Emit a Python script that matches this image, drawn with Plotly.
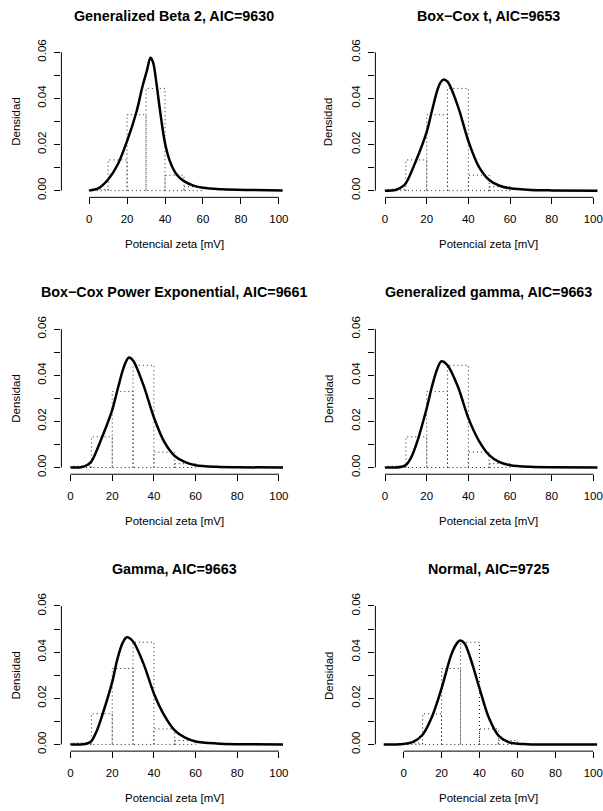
import plotly.graph_objects as go

# ---------------- data ----------------
titles = [
    "Generalized Beta 2, AIC=9630",
    "Box\u2212Cox t, AIC=9653",
    "Box\u2212Cox Power Exponential, AIC=9661",
    "Generalized gamma, AIC=9663",
    "Gamma, AIC=9663",
    "Normal, AIC=9725",
]

bin_edges = [0, 10, 20, 30, 40, 50, 60]
hist_density = [0.0006, 0.0133, 0.0329, 0.0443, 0.0067, 0.0017]

gb2_x = [0, 5, 10, 15, 20, 25, 28, 30.5, 32.3, 33.7, 35.4, 37.2, 40, 42.5, 46, 50, 55, 60, 70, 83, 102]
gb2_y = [0, 0.0011, 0.0048, 0.0112, 0.0215, 0.0343, 0.0448, 0.0522, 0.0576, 0.0556, 0.047, 0.0357,
         0.0205, 0.0129, 0.0071, 0.0041, 0.0022, 0.0012, 0.0006, 0.0003, 0.0001]

bct_x = [0, 5, 8, 10, 15, 20, 22.5, 25, 26.5, 28, 30, 35, 40, 45, 50, 55, 60, 70, 80, 102]
bct_y = [0, 0.0003, 0.0016, 0.0032, 0.0133, 0.0255, 0.0345, 0.0432, 0.0467, 0.0481, 0.0472, 0.0365,
         0.0215, 0.0104, 0.0046, 0.0021, 0.001, 0.0003, 0.0001, 0]

bcpe_x = [0, 5, 8, 10, 15, 20, 22.5, 25, 26.5, 28, 30, 35, 40, 45, 50, 55, 60, 70, 80, 102]
bcpe_y = [0, 0.0001, 0.0011, 0.0026, 0.0129, 0.025, 0.0336, 0.042, 0.0457, 0.0477, 0.0464, 0.0357,
          0.0217, 0.0111, 0.005, 0.0023, 0.001, 0.0003, 0.0001, 0]

gg_x = [0, 5, 8, 10, 12.5, 15, 20, 22.5, 25, 27, 30, 35, 40, 45, 50, 55, 60, 70, 80, 102]
gg_y = [0, 0, 0.0003, 0.0011, 0.0043, 0.01, 0.0257, 0.035, 0.0426, 0.046, 0.0443, 0.035, 0.0214,
        0.0117, 0.0054, 0.0023, 0.001, 0.0003, 0.0001, 0]

gamma_x = [0, 5, 8, 10, 12.5, 15, 20, 22.5, 25, 27, 30, 35, 40, 45, 50, 55, 60, 70, 80, 102]
gamma_y = [0, 0, 0.0004, 0.0014, 0.0057, 0.0121, 0.0271, 0.0371, 0.044, 0.0464, 0.0446, 0.035,
           0.0221, 0.0126, 0.0061, 0.0029, 0.0013, 0.0004, 0.0001, 0]

norm_x = [-10.5, -5, 0, 5, 10, 15, 20, 25, 27.5, 29.7, 32, 35, 40, 45, 50, 55, 60, 65, 70, 102]
norm_y = [0, 0, 0.0002, 0.0011, 0.0042, 0.0121, 0.0243, 0.0386, 0.0431, 0.045, 0.0439, 0.0379,
          0.0243, 0.0114, 0.0038, 0.0011, 0.0003, 0.0001, 0, 0]

curves = [(gb2_x, gb2_y), (bct_x, bct_y), (bcpe_x, bcpe_y),
          (gg_x, gg_y), (gamma_x, gamma_y), (norm_x, norm_y)]

x_ticks = [0, 20, 40, 60, 80, 100]
y_ticks = [0.0, 0.02, 0.04, 0.06]
y_tick_text = ["0.00", "0.02", "0.04", "0.06"]
x_label = "Potencial zeta [mV]"
y_label = "Densidad"

# ---------------- layout geometry (pixels) ----------------
W, H = 603, 811
col_left = [(61.5, 287.5), (376.0, 602.0)]
# pixel of x=0 and x=100 per panel
x_px = [(89.3, 279.3), (385.7, 594.3), (70.7, 279.3), (385.7, 594.3), (70.7, 279.3), (404.3, 594.3)]
row_step = 280.0
y0_px, y6_px = 186.7, 46.7       # pixel of 0.00 and 0.06 in row 0
bot_px, top_px = 193.5, 40.0      # plot region bottom / top in row 0
title_px = 10.0
xlab_px = 240.5

FONT = "Liberation Sans, Arial, Helvetica, sans-serif"

# histogram outline from data
hx, hy = [], []
for i, h in enumerate(hist_density):
    l, r = bin_edges[i], bin_edges[i + 1]
    hx += [l, l, r, r, l, None]
    hy += [0, h, h, 0, 0, None]

fig = go.Figure()
layout = dict(width=W, height=H, margin=dict(l=0, r=0, t=0, b=0),
              paper_bgcolor="white", plot_bgcolor="white", showlegend=False,
              font=dict(family=FONT, color="black", size=11.5))
shapes, annotations = [], []

for k in range(6):
    row, col = divmod(k, 2)
    sfx = "" if k == 0 else str(k + 1)
    xa, ya = "x" + sfx, "y" + sfx
    L, R = col_left[col]
    p0, p100 = x_px[k]
    sx = (p100 - p0) / 100.0
    xr = [(L - p0) / sx, (R - p0) / sx]
    off = row * row_step
    sy = (y0_px - y6_px) / 0.06
    yr = [-(bot_px - y0_px) / sy, (y0_px - top_px) / sy]
    ydom = [1 - (bot_px + off) / H, 1 - (top_px + off) / H]

    layout["xaxis" + sfx] = dict(domain=[L / W, R / W], range=xr, anchor=ya,
                                 showgrid=False, zeroline=False, showline=False,
                                 tickvals=x_ticks, ticks="outside", ticklen=6, tickwidth=1,
                                 tickcolor="black", ticklabelstandoff=5,
                                 tickfont=dict(family=FONT, size=11.5, color="black"))
    layout["yaxis" + sfx] = dict(domain=ydom, range=yr, anchor=xa,
                                 showgrid=False, zeroline=False, showline=False,
                                 tickvals=y_ticks, ticktext=y_tick_text, ticks="outside",
                                 ticklen=6, tickwidth=1, tickcolor="black", tickangle=-90,
                                 ticklabelstandoff=4,
                                 minor=dict(tickvals=[0.01, 0.03, 0.05], ticks="outside",
                                            ticklen=6, tickwidth=1, tickcolor="black",
                                            showgrid=False),
                                 tickfont=dict(family=FONT, size=11.5, color="black"))

    fig.add_trace(go.Scatter(x=hx, y=hy, xaxis=xa, yaxis=ya, mode="lines",
                             line=dict(color="#222222", width=1, dash="1px,3px"),
                             hoverinfo="skip"))
    cx, cy = curves[k]
    fig.add_trace(go.Scatter(x=cx, y=cy, xaxis=xa, yaxis=ya, mode="lines",
                             line=dict(color="black", width=2.5, shape="spline", smoothing=0.9)))

    # R-style axis lines spanning first..last tick
    shapes.append(dict(type="line", xref=xa, yref=ya + " domain", x0=x_ticks[0], x1=x_ticks[-1],
                       y0=0, y1=0, line=dict(color="black", width=1)))
    shapes.append(dict(type="line", xref=xa + " domain", yref=ya, x0=0, x1=0,
                       y0=y_ticks[0], y1=y_ticks[-1], line=dict(color="black", width=1)))

    annotations.append(dict(text="<b>" + titles[k] + "</b>", xref=xa + " domain", yref=ya + " domain",
                            x=0.5, y=1, yshift=(top_px - title_px), xanchor="center", yanchor="middle",
                            showarrow=False, font=dict(family=FONT, size=14.3, color="black")))
    annotations.append(dict(text=x_label, xref=xa + " domain", yref=ya + " domain",
                            x=0.5, y=0, yshift=-(xlab_px - bot_px), xanchor="center", yanchor="middle",
                            showarrow=False, font=dict(family=FONT, size=11.5, color="black")))
    annotations.append(dict(text=y_label, xref=xa + " domain", yref=ya,
                            x=0, y=0.03, xshift=-(L - (16.5 + (0 if col == 0 else 313))), textangle=-90,
                            xanchor="center", yanchor="middle",
                            showarrow=False, font=dict(family=FONT, size=11.5, color="black")))

layout["shapes"] = shapes
layout["annotations"] = annotations
fig.update_layout(**layout)
fig.write_html("out.html", config={"displayModeBar": False},
               post_script="document.body.style.margin='0px';")
